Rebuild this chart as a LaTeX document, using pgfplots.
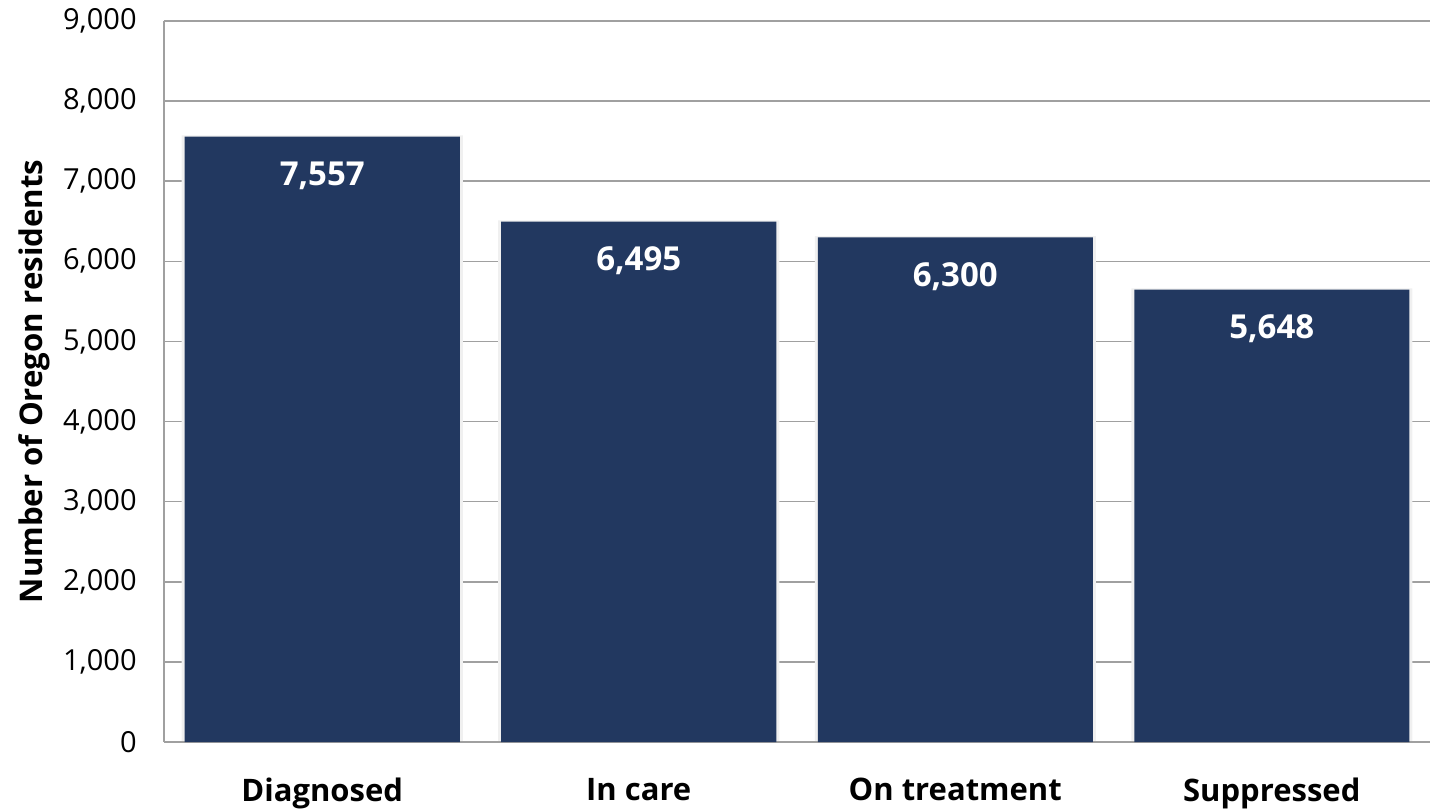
\documentclass[border=0pt]{standalone}
\usepackage{fontspec}
\setmainfont{Open Sans}
\usepackage{pgfplots}
\pgfplotsset{compat=1.18}

\definecolor{barnavy}{RGB}{34,56,96}
\definecolor{gridgray}{RGB}{160,160,160}

\begin{document}
\begin{tikzpicture}
\useasboundingbox (-82pt,-33.5pt) rectangle (638pt,371pt);
\begin{axis}[
  at={(0pt,0pt)}, anchor=south west,
  scale only axis,
  width=633pt, height=360.5pt,
  xmin=-0.5, xmax=3.5,
  ymin=0, ymax=9000,
  ytick={0,1000,...,9000},
  xtick={0,1,2,3},
  xticklabels={Diagnosed, In care, On treatment, Suppressed},
  axis x line*=bottom, axis y line*=left,
  axis line style={-, draw=gridgray, line width=0.75pt},
  major tick length=0pt,
  ymajorgrids,
  grid style={draw=gridgray, line width=0.75pt},
  /pgf/number format/.cd, 1000 sep={,}, assume math mode=true,
  /pgfplots/.cd,
  scaled y ticks=false,
  yticklabel style={font=\fontsize{14.5}{16}\selectfont, anchor=east, inner sep=0pt, xshift=-13.5pt},
  xticklabel style={font=\fontsize{15.5}{18}\selectfont\bfseries, anchor=north, inner sep=0pt, yshift=-18pt},
  every axis y label/.style={at={(axis description cs:-0.1027,0.5)}, rotate=90, anchor=center,
    font=\fontsize{15.6}{18}\selectfont\bfseries},
  ylabel={Number of Oregon residents},
  nodes near coords,
  nodes near coords style={font=\fontsize{16.5}{19}\selectfont\bfseries, text=white,
    anchor=north, inner sep=0pt, yshift=-12.5pt},
  clip=false,
]
% soft shadow behind the bars
\addplot[ybar, bar width=140.5pt, bar shift=0pt, fill=black!6, draw=none,
  yshift=0.6pt, nodes near coords={}, forget plot]
  coordinates {(0,7557) (1,6495) (2,6300) (3,5648)};
% bars
\addplot[ybar, bar width=137.5pt, bar shift=0pt, fill=barnavy, draw=none]
  coordinates {(0,7557) (1,6495) (2,6300) (3,5648)};
\end{axis}
\end{tikzpicture}
\end{document}
